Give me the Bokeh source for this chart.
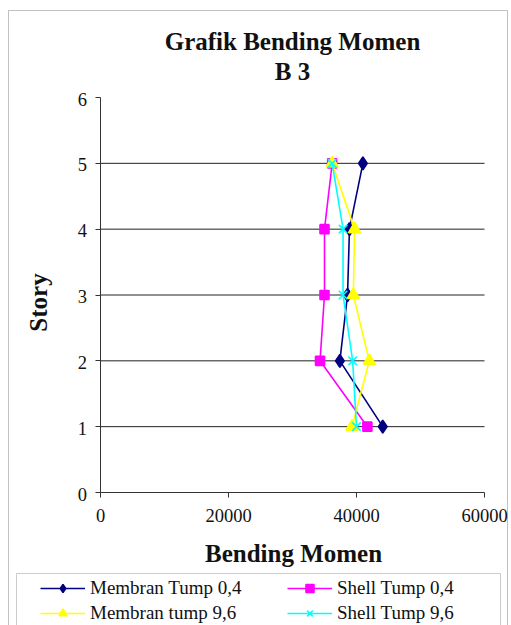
import math
from bokeh.plotting import figure
from bokeh.models import Range1d, FixedTicker, Label, Legend, LegendItem, BoxAnnotation
from bokeh.embed import file_html
from bokeh.resources import INLINE

# ---- data ----
story = [1, 2, 3, 4, 5]
membran_tump_04 = [44100, 37400, 38600, 38900, 41000]
shell_tump_04 = [41700, 34300, 35000, 35000, 36200]
membran_tump_96 = [39300, 42000, 39500, 39700, 36200]
shell_tump_96 = [40000, 39400, 37900, 37900, 36200]
series_names = ["Membran Tump 0,4", "Shell Tump 0,4", "Membran tump 9,6", "Shell Tump 9,6"]
x_ticks = [0, 20000, 40000, 60000]
x_tick_labels = ["0", "20000", "40000", "60000"]
y_ticks = [0, 1, 2, 3, 4, 5, 6]
y_tick_labels = ["0", "1", "2", "3", "4", "5", "6"]
grid_ticks = [1, 2, 3, 4, 5]
title_lines = ["Grafik Bending Momen", "B 3"]
x_label = "Bending Momen"
y_label = "Story"

SERIF = "Liberation Serif"

W, H = 511, 625
# pixel box of the data area
PL, PR, PT, PB = 100, 484, 97, 492
XMAX, YMAX = 60000, 6
ppx = (PR - PL) / XMAX
ppy = (PB - PT) / YMAX


def dx(px):
    return (px - PL) / ppx


def dy(py):
    return (PB - py) / ppy


p = figure(width=W, height=H, output_backend="svg", toolbar_location=None, title=None,
           x_range=Range1d(dx(0), dx(W)), y_range=Range1d(dy(H), dy(0)),
           min_border=0, background_fill_color="white", border_fill_color="white")
p.outline_line_color = None
p.grid.visible = False

p.axis.fixed_location = 0
p.axis.axis_line_color = "#333333"
p.axis.major_tick_line_color = "#333333"
p.axis.minor_tick_line_color = None
p.axis.major_tick_in = 0
p.axis.major_tick_out = 5
p.axis.major_label_text_font_size = "0px"
p.axis.major_label_text_alpha = 0
p.xaxis.ticker = FixedTicker(ticks=x_ticks)
p.yaxis.ticker = FixedTicker(ticks=y_ticks)
p.xaxis.bounds = (0, XMAX)
p.yaxis.bounds = (0, YMAX)


def text_label(x, y, text, size, bold=False, align="center", **kw):
    p.add_layout(Label(x=x, y=y, text=text, text_align=align, text_baseline="middle",
                       text_font=SERIF, text_font_style="bold" if bold else "normal",
                       text_font_size=size, text_color="#111111", **kw))


# tick labels (serif, like the reference)
for t, lab in zip(x_ticks, x_tick_labels):
    text_label(t, dy(PB + 22.5), lab, "18.5px")
for t, lab in zip(y_ticks, y_tick_labels):
    text_label(dx(PL - 13.5), t - 1.5 / ppy, lab, "18.5px", align="right")

# horizontal gridlines across the data area
p.segment(x0=[0] * len(grid_ticks), x1=[XMAX] * len(grid_ticks), y0=grid_ticks, y1=grid_ticks,
          line_color="#222222", line_width=1)

# outer chart frame and legend box
p.add_layout(BoxAnnotation(left=dx(8), right=dx(507), top=dy(10), bottom=dy(660),
                           fill_alpha=0, line_color="#333333", line_width=1))
p.add_layout(BoxAnnotation(left=dx(16), right=dx(500), top=dy(573), bottom=dy(660),
                           fill_alpha=0, line_color="#555555", line_width=1))

styles = [
    ("#000080", "diamond", 13, membran_tump_04),
    ("#FF00FF", "square", 9, shell_tump_04),
    ("#FFFF00", "triangle", 12, membran_tump_96),
    ("#00FFFF", "x", 12, shell_tump_96),
]
items = []
for name, (color, marker, size, vals) in zip(series_names, styles):
    lr = p.line(vals, story, line_color=color, line_width=1.6)
    sr = p.scatter(vals, story, marker=marker, size=size,
                   fill_color=color, line_color=color, line_width=1.6)
    items.append(LegendItem(label=name, renderers=[lr, sr]))

legend = Legend(items=items, location=(40, 0), orientation="horizontal", ncols=2,
                padding=0, spacing=0, margin=0, label_standoff=5, label_width=197,
                label_height=25, glyph_width=45, glyph_height=20,
                label_text_font=SERIF, label_text_font_size="19px", label_text_color="#111111",
                border_line_color=None, background_fill_alpha=0)
p.add_layout(legend, "center")

# titles and axis titles
text_label(dx(292), dy(40.5), title_lines[0], "25px", bold=True)
text_label(dx(292), dy(70.5), title_lines[1], "25px", bold=True)
text_label(dx(293), dy(553), x_label, "25px", bold=True)
text_label(dx(37.5), dy(302), y_label, "25px", bold=True, angle=math.pi / 2)

open("out.html", "w").write(file_html(p, INLINE))
